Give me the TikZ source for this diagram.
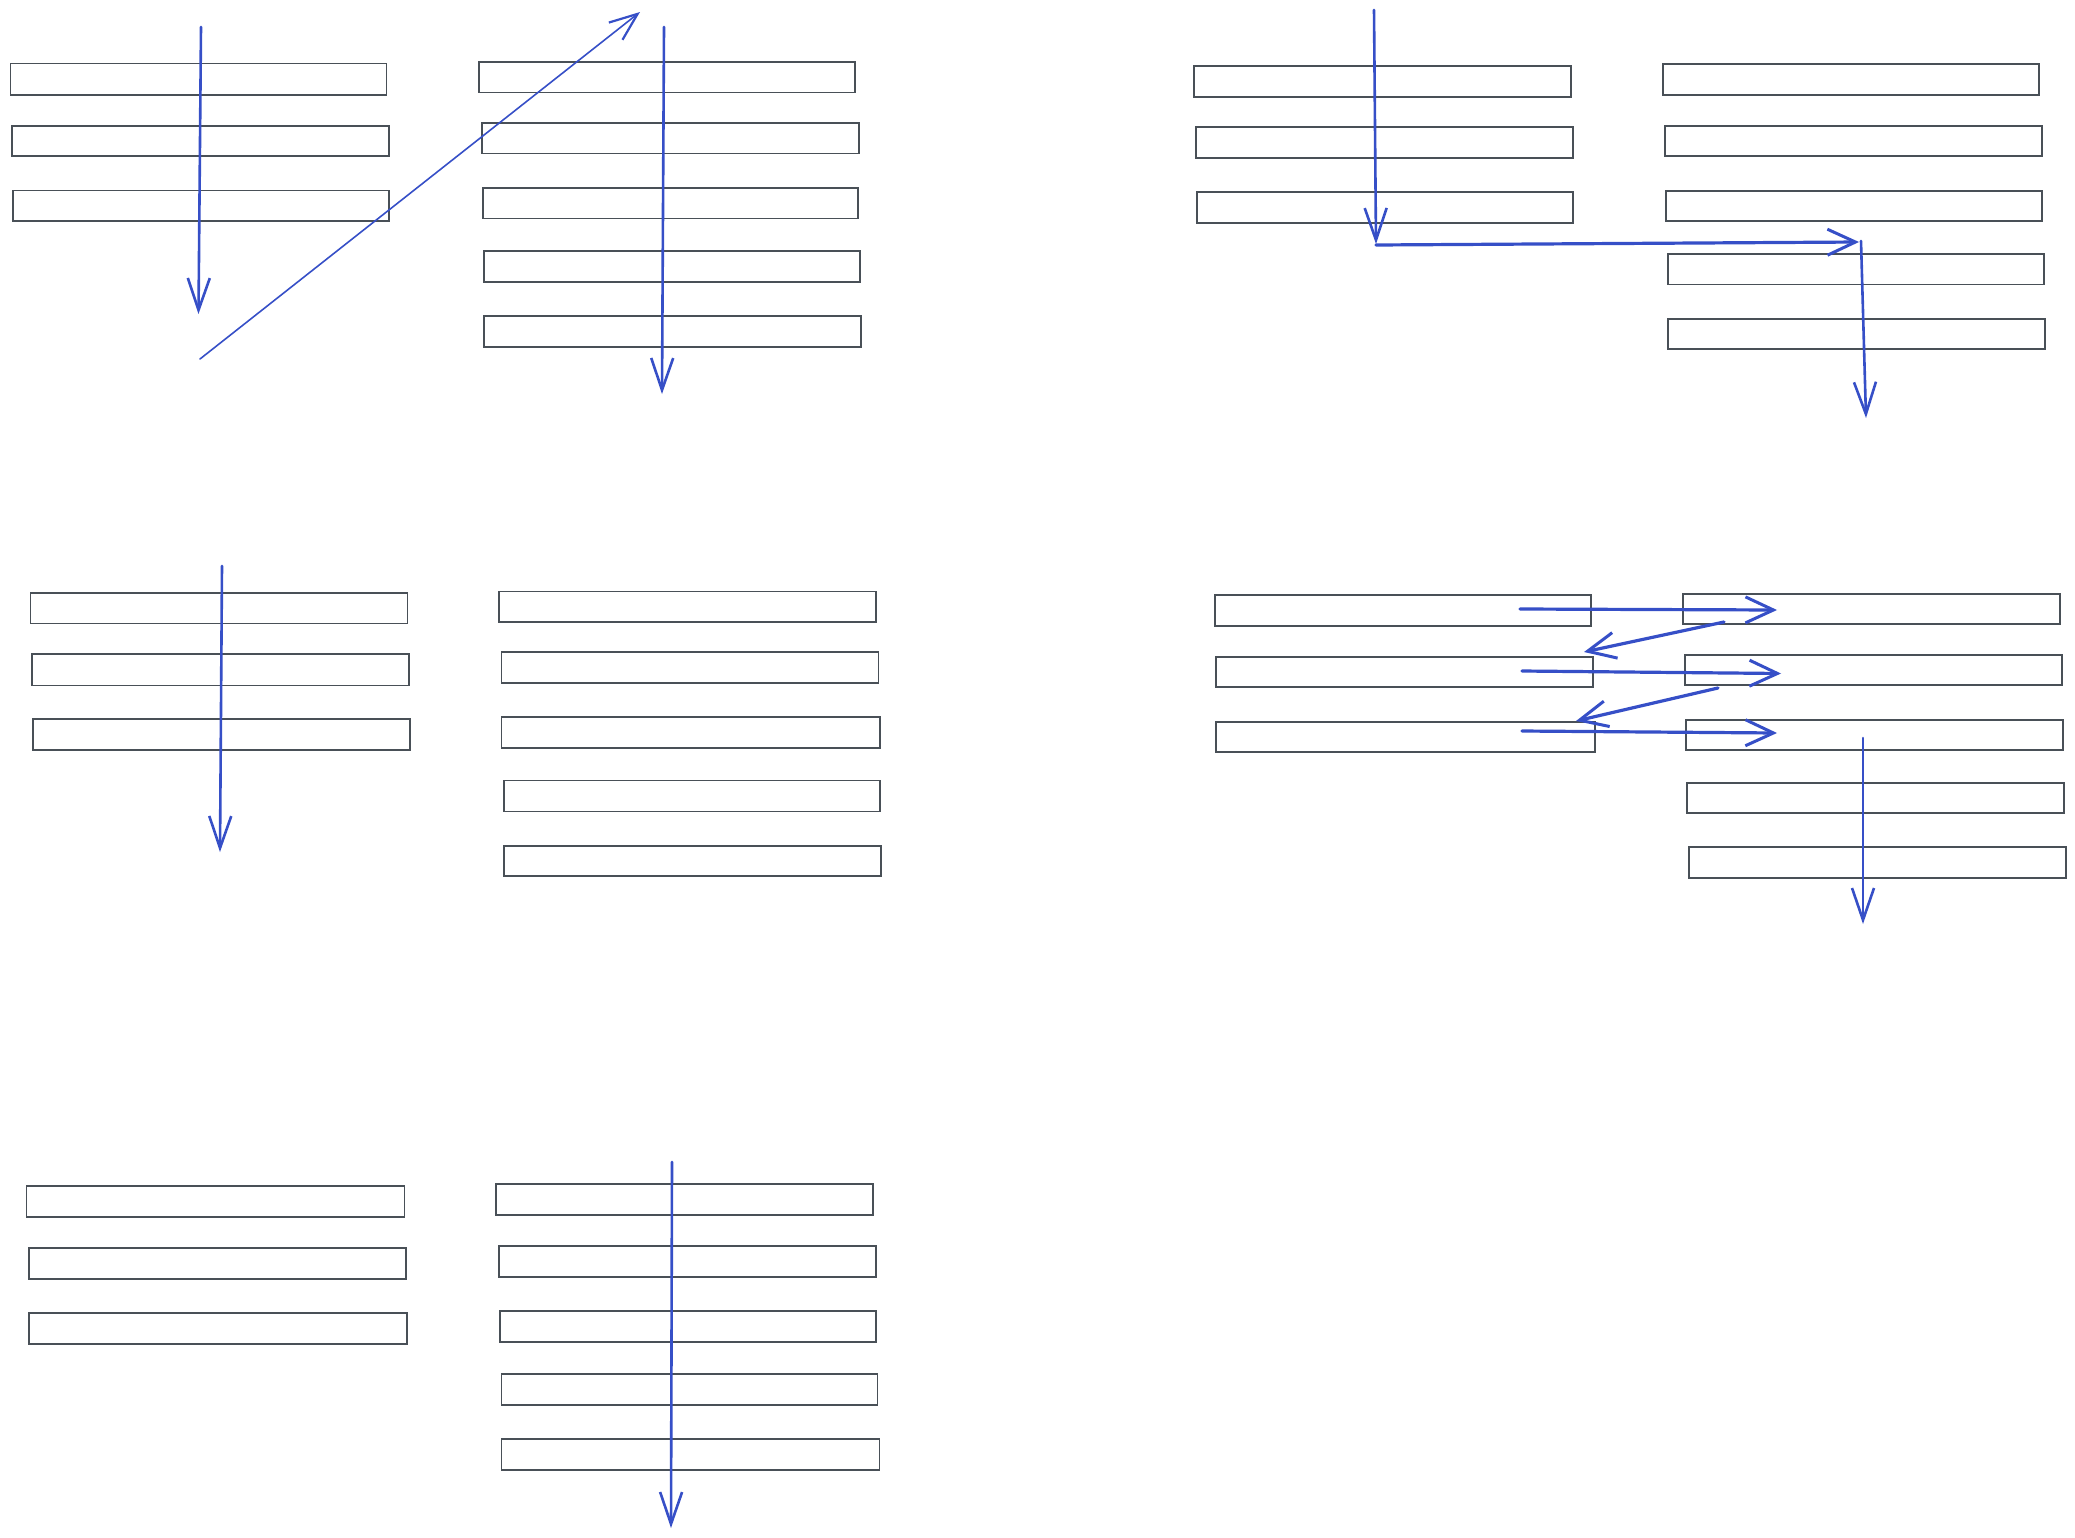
\documentclass[tikz,border=0pt]{standalone}
\usetikzlibrary{arrows.meta}
\definecolor{boxline}{RGB}{73,80,87}
\definecolor{arrblue}{RGB}{54,79,199}
\tikzset{
  bar/.style={draw=boxline, line width=1.4pt, fill=white, inner sep=0pt, outer sep=0pt, anchor=north west, minimum height=31pt},
  flow/.style={draw=arrblue, line width=2.6pt, line cap=round, -{Straight Barb[length=32pt,width=22pt,line width=2.6pt]}},
  thinflow/.style={draw=arrblue, line width=1.6pt, line cap=round, -{Straight Barb[length=28pt,width=22pt,line width=2.2pt]}},
  thickflow/.style={draw=arrblue, line width=3.2pt, line cap=round, -{Straight Barb[length=28pt,width=26pt,line width=3pt]}},
}
\newcommand{\mybox}[4]{\node[bar, minimum width=#3pt, minimum height=#4pt] (#1) at (#2) {};}
\begin{document}
\begin{tikzpicture}[x=1pt, y=-1pt]
\useasboundingbox (0,0) rectangle (2075,1537);
% Group A
\mybox{A1}{10.6,63.5}{376}{31.5}
\mybox{A2}{12,126}{377}{30}
\mybox{A3}{13,190.5}{376}{30.5}
% Group B
\mybox{B1}{479,62}{376}{30.5}
\mybox{B2}{482,123}{377}{30.5}
\mybox{B3}{483,188}{375}{30.5}
\mybox{B4}{484,251}{376}{31}
\mybox{B5}{484,316}{377}{31}
% Group C
\mybox{C1}{1194,66}{377}{31}
\mybox{C2}{1196,127}{377}{31}
\mybox{C3}{1197,192}{376}{31}
% Group D
\mybox{D1}{1663,64}{376}{31}
\mybox{D2}{1665,126}{377}{30}
\mybox{D3}{1666,191}{376}{30}
\mybox{D4}{1668,254}{376}{30.5}
\mybox{D5}{1668,319}{377}{30}
% Group E
\mybox{E1}{30.5,593}{377}{30.5}
\mybox{E2}{32,654}{377}{31.5}
\mybox{E3}{33,719}{377}{31}
% Group F
\mybox{F1}{499,591.5}{377}{30.5}
\mybox{F2}{501.5,652}{377}{31}
\mybox{F3}{501.5,717}{378.5}{31}
\mybox{F4}{504,780.5}{376}{31}
\mybox{F5}{504,846}{377}{30}
% Group G
\mybox{G1}{1215,595}{376}{31}
\mybox{G2}{1216,657}{377}{30}
\mybox{G3}{1216,722}{379}{30}
% Group H
\mybox{H1}{1683,594}{377}{30}
\mybox{H2}{1685,655}{377}{30}
\mybox{H3}{1686,720}{377}{30}
\mybox{H4}{1687,783}{377}{30}
\mybox{H5}{1689,847}{377}{31}
% Group I
\mybox{I1}{26.5,1186}{378}{31}
\mybox{I2}{29,1248}{377}{31}
\mybox{I3}{29,1313}{378}{31}
% Group J
\mybox{J1}{496,1184}{377}{31}
\mybox{J2}{499,1246}{377}{31}
\mybox{J3}{500,1311}{376}{31}
\mybox{J4}{501.5,1374}{376}{31}
\mybox{J5}{501.5,1439}{378}{31}

% arrow end points
\coordinate (a0) at (201,27);   \coordinate (a1) at (198.5,314);
\coordinate (d0) at (200,359);  \coordinate (d1) at (640,12);
\coordinate (b0) at (664,27);   \coordinate (b1) at (662,394);
\coordinate (c0) at (1374,10);  \coordinate (c1) at (1376,244);
\coordinate (c2) at (1376,245); \coordinate (c3) at (1859,242);
\coordinate (c4) at (1861,241); \coordinate (c5) at (1866,418);
\coordinate (e0) at (222,566);  \coordinate (e1) at (220,852);
\coordinate (g0) at (1520,609); \coordinate (g1) at (1777,610);
\coordinate (g2) at (1724,622); \coordinate (g3) at (1584,652);
\coordinate (g4) at (1522,671); \coordinate (g5) at (1781,673.5);
\coordinate (g6) at (1718,688); \coordinate (g7) at (1576,721);
\coordinate (g8) at (1522,731); \coordinate (g9) at (1777,733);
\coordinate (h0) at (1863,738); \coordinate (h1) at (1863,924);
\coordinate (j0) at (672,1162); \coordinate (j1) at (671,1528);

\draw[flow] (a0) -- (a1);
\draw[thinflow] (d0) -- (d1);
\draw[flow] (b0) -- (b1);
\draw[flow] (c0) -- (c1);
\draw[thickflow] (c2) -- (c3);
\draw[flow] (c4) -- (c5);
\draw[flow] (e0) -- (e1);
\draw[thickflow] (g0) -- (g1);
\draw[thickflow] (g2) -- (g3);
\draw[thickflow] (g4) -- (g5);
\draw[thickflow] (g6) -- (g7);
\draw[thickflow] (g8) -- (g9);
\draw[flow] (h0) -- (h1);
\draw[flow] (j0) -- (j1);
\end{tikzpicture}
\end{document}
